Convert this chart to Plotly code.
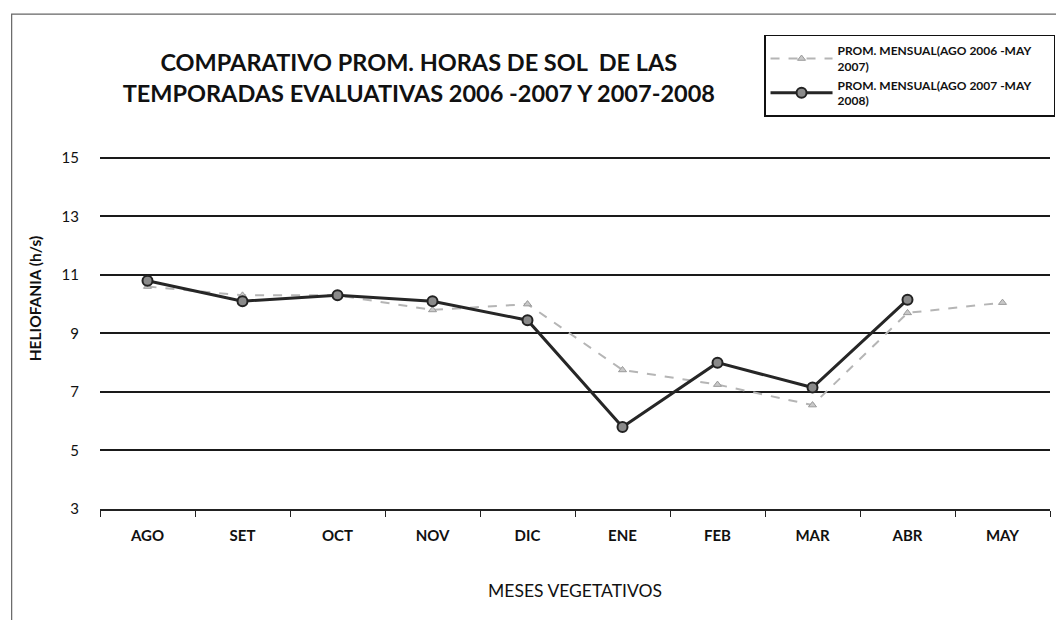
import plotly.graph_objects as go

months = ["AGO", "SET", "OCT", "NOV", "DIC", "ENE", "FEB", "MAR", "ABR", "MAY"]
prom_2006_2007 = [10.6, 10.3, 10.3, 9.8, 10.0, 7.75, 7.25, 6.55, 9.7, 10.05]
prom_2007_2008 = [10.8, 10.1, 10.3, 10.1, 9.45, 5.8, 8.0, 7.15, 10.15, None]
y_ticks = [3, 5, 7, 9, 11, 13, 15]

FONT = "Lato"
PAD = "&nbsp;" * 6

fig = go.Figure()
fig.add_trace(go.Scatter(
    x=months, y=prom_2006_2007, mode="lines+markers",
    name="<b>PROM. MENSUAL(AGO 2006 -MAY" + PAD + "<br>2007)</b>",
    line=dict(color="#b5b5b5", width=2, dash="dash"),
    marker=dict(symbol="triangle-up", size=7, color="#c8c8c8",
                line=dict(color="#9a9a9a", width=1)),
))
fig.add_trace(go.Scatter(
    x=months, y=prom_2007_2008, mode="lines+markers",
    name="<b>PROM. MENSUAL(AGO 2007 -MAY" + PAD + "<br>2008)</b>",
    line=dict(color="#262626", width=3),
    marker=dict(symbol="circle", size=10, color="#8a8a8a",
                line=dict(color="#222222", width=2)),
    connectgaps=False,
))

fig.update_layout(
    width=1056, height=612,
    paper_bgcolor="white", plot_bgcolor="white",
    margin=dict(l=92, r=14, t=148, b=111, autoexpand=False),
    font=dict(family=FONT, color="#111111"),
    title=dict(
        text="<b>COMPARATIVO PROM. HORAS DE SOL  DE LAS<br>TEMPORADAS EVALUATIVAS 2006 -2007 Y 2007-2008</b>",
        x=0.389, xanchor="center", y=0.897, yanchor="middle",
        font=dict(family=FONT, size=23.5, color="#111111"),
    ),
    legend=dict(
        x=1.0053, xanchor="right", y=1.343, yanchor="top",
        bordercolor="#111111", borderwidth=1.5, bgcolor="white",
        font=dict(family=FONT, size=12, color="#111111"),
        tracegroupgap=0, itemwidth=62,
    ),
    showlegend=True,
)
fig.update_xaxes(
    type="category", categoryorder="array", categoryarray=months,
    range=[-0.5, 9.5], automargin=False,
    showgrid=False, showline=True, linecolor="#222222", linewidth=1.5,
    ticks="outside", ticklen=6, tickcolor="#222222", tickson="boundaries",
    ticklabelstandoff=12,
    tickfont=dict(family=FONT, size=15, color="#111111", weight="bold"),
    title=dict(text="MESES VEGETATIVOS", standoff=42,
               font=dict(family=FONT, size=17.5, color="#111111")),
)
fig.update_yaxes(
    range=[3, 15.06], tickvals=y_ticks, automargin=False,
    showgrid=True, gridcolor="#1a1a1a", gridwidth=1.5,
    showline=False, zeroline=False,
    ticks="", tickfont=dict(family=FONT, size=15, color="#111111"),
    ticklabelstandoff=20,
)
fig.add_annotation(
    text="<b>HELIOFANIA (h/s)</b>", textangle=-90,
    xref="paper", yref="paper", x=-0.069, y=0.598,
    xanchor="center", yanchor="middle", showarrow=False,
    font=dict(family=FONT, size=15.5, color="#111111"),
)
fig.add_shape(type="rect", xref="paper", yref="paper",
              x0=-0.093, x1=1.0126, y0=-0.32, y1=1.402,
              line=dict(color="#666666", width=1.2))

fig.write_html("out.html")
